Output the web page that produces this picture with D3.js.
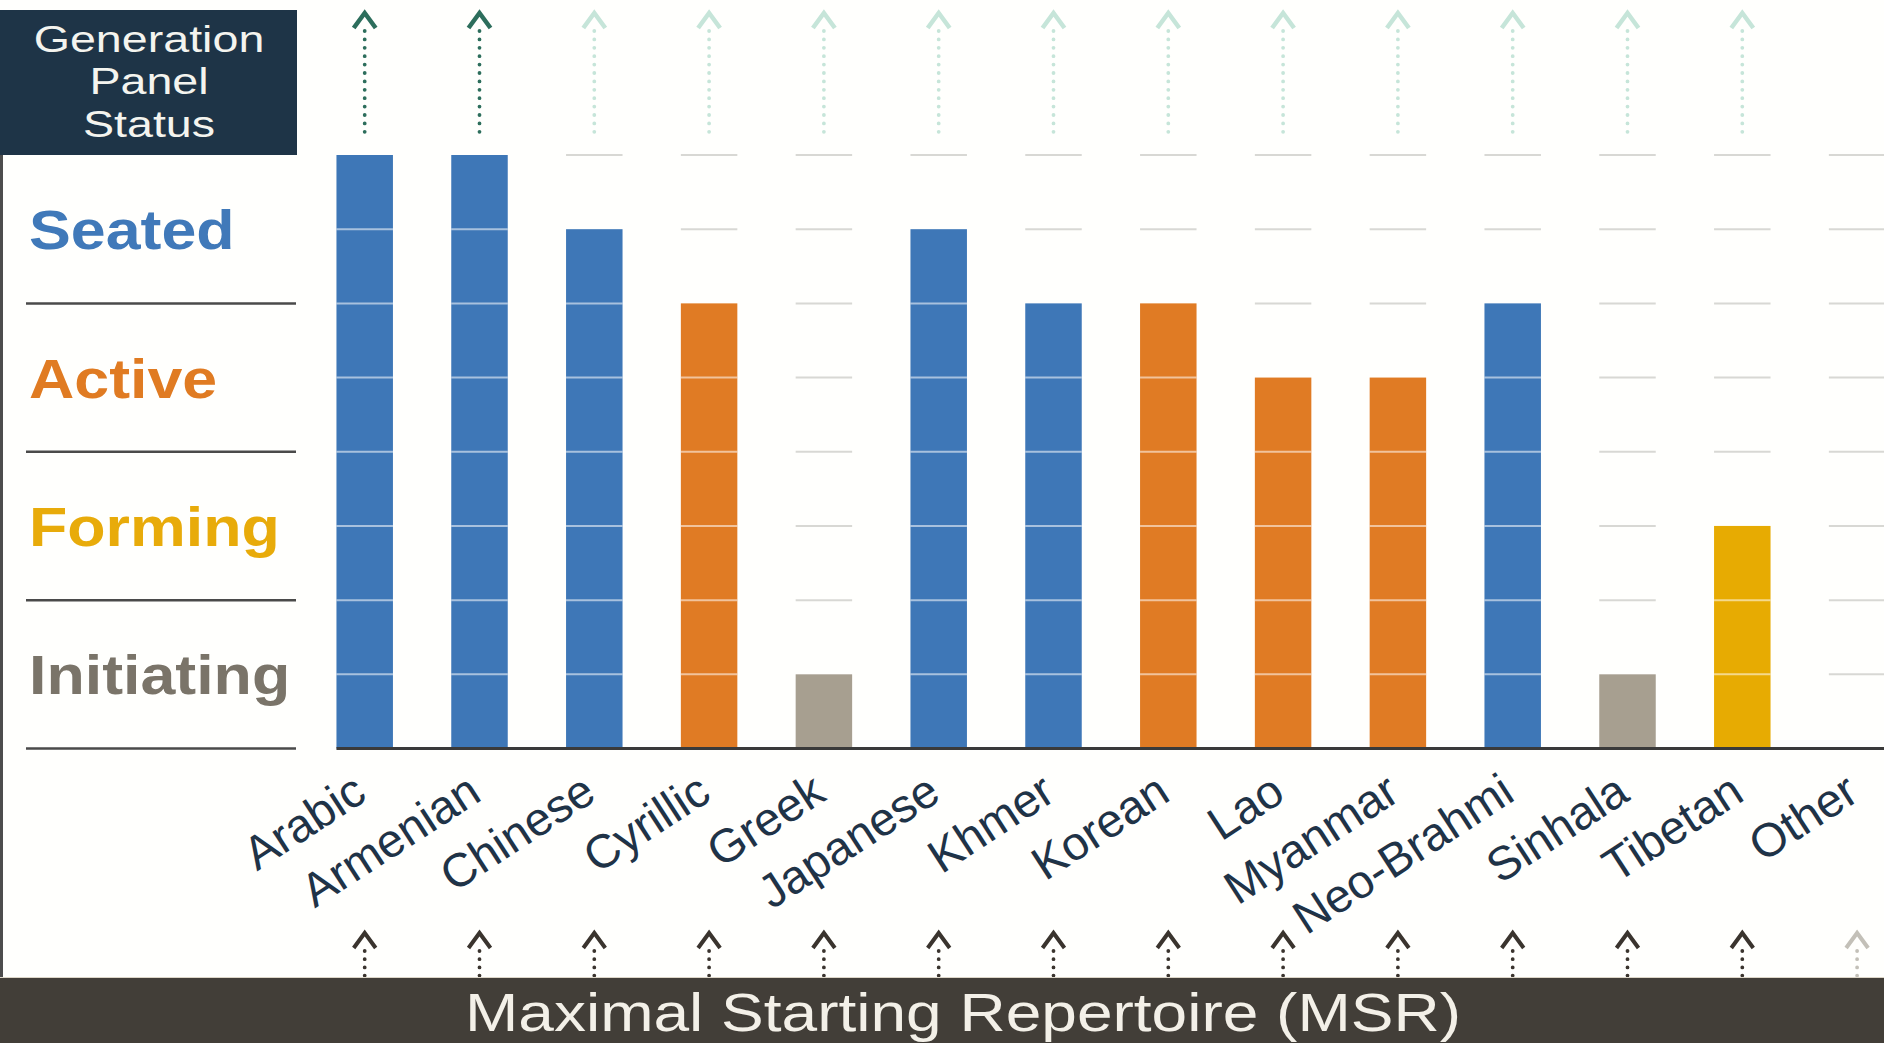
<!DOCTYPE html>
<html>
<head>
<meta charset="utf-8">
<script src="https://cdn.jsdelivr.net/npm/d3@7"></script>
<style>
  html, body { margin: 0; padding: 0; background: #fffffd; }
  svg { display: block; }
  text { font-family: "Liberation Sans", Arial, sans-serif; }
</style>
</head>
<body>
<svg id="chart" width="1884" height="1043"></svg>
<script>
// Script groups and the generation-panel level reached by each
const categories = ["Arabic", "Armenian", "Chinese", "Cyrillic", "Greek", "Japanese", "Khmer",
  "Korean", "Lao", "Myanmar", "Neo-Brahmi", "Sinhala", "Tibetan", "Other"];
const panelLevels = [8, 8, 7, 6, 1, 7, 6, 6, 5, 5, 6, 1, 3, 0];
const panelStatus = ["Seated", "Seated", "Seated", "Active", "Initiating", "Seated", "Seated",
  "Active", "Active", "Active", "Seated", "Initiating", "Forming", null];
// Arrow into the generation panel (top) and from the MSR (bottom)
const panelArrows = ["strong", "strong", "faint", "faint", "faint", "faint", "faint",
  "faint", "faint", "faint", "faint", "faint", "faint", "none"];
const msrArrows = ["strong", "strong", "strong", "strong", "strong", "strong", "strong",
  "strong", "strong", "strong", "strong", "strong", "strong", "faint"];

// Status bands on the left-hand scale
const statusNames = ["Seated", "Active", "Forming", "Initiating"];
const statusFrom = [6, 4, 2, 0];
const statusTo = [8, 6, 4, 2];
const levelTicks = [1, 2, 3, 4, 5, 6, 7, 8];

const statusColor = { Seated: "#3e77b7", Active: "#e07b24", Forming: "#e7ab02", Initiating: "#a79f90" };
const statusTextColor = { Seated: "#4079b9", Active: "#e07b22", Forming: "#e8ab0a", Initiating: "#7a7469" };

const svg = d3.select("#chart");
const W = 1884, H = 1043;

const x = d3.scaleBand().domain(categories).range([307.3, 1914.5]).paddingInner(0.508).paddingOuter(0.254);
const y = d3.scaleLinear().domain([0, 8]).range([748.5, 155]);
const bw = x.bandwidth();
const cx = c => x(c) + bw / 2;

// Left frame line
svg.append("line").attr("x1", 1.5).attr("x2", 1.5).attr("y1", y(8)).attr("y2", 978)
  .attr("stroke", "#4d4d4d").attr("stroke-width", 3);

// Title box
svg.append("rect").attr("x", 0).attr("y", 10).attr("width", 297).attr("height", 145).attr("fill", "#1e3447");
const title = svg.append("g").attr("transform", "translate(149,0) scale(1.26,1)");
["Generation", "Panel", "Status"].forEach((t, i) => {
  title.append("text").attr("x", 0).attr("y", 52 + i * 42.5).attr("text-anchor", "middle")
    .attr("font-size", 37).attr("fill", "#f4f4ef").text(t);
});

// Status names and band dividers
statusNames.forEach((s, i) => {
  svg.append("text")
    .attr("transform", `translate(29,${(y(statusFrom[i]) + y(statusTo[i])) / 2 + 20}) scale(1.14,1)`)
    .attr("font-size", 55).attr("font-weight", "bold").attr("fill", statusTextColor[s]).text(s);
  svg.append("line").attr("x1", 26).attr("x2", 296)
    .attr("y1", y(statusFrom[i])).attr("y2", y(statusFrom[i]))
    .attr("stroke", "#4a4a4a").attr("stroke-width", 2.5);
});

// Faint level marks above each bar
const grid = svg.append("g");
categories.forEach((c, i) => {
  levelTicks.filter(l => l > panelLevels[i]).forEach(l => {
    grid.append("line").attr("x1", x(c)).attr("x2", x(c) + bw).attr("y1", y(l)).attr("y2", y(l))
      .attr("stroke", "#d8d8d4").attr("stroke-width", 2);
  });
});

// Bars
categories.forEach((c, i) => {
  if (!panelLevels[i]) return;
  svg.append("rect").attr("x", x(c)).attr("y", y(panelLevels[i])).attr("width", bw)
    .attr("height", y(0) - y(panelLevels[i])).attr("fill", statusColor[panelStatus[i]]);
  levelTicks.filter(l => l < panelLevels[i]).forEach(l => {
    svg.append("line").attr("x1", x(c)).attr("x2", x(c) + bw).attr("y1", y(l)).attr("y2", y(l))
      .attr("stroke", "#ffffff").attr("stroke-opacity", 0.55).attr("stroke-width", 2);
  });
});

// Baseline
svg.append("line").attr("x1", x(categories[0])).attr("x2", W).attr("y1", y(0)).attr("y2", y(0))
  .attr("stroke", "#3a3a3a").attr("stroke-width", 3);

// Category labels
const xAxis = svg.append("g").call(d3.axisBottom(x).tickSize(0));
xAxis.select(".domain").remove();
xAxis.selectAll(".tick").attr("transform", d => `translate(${cx(d) + 4},799)`);
xAxis.selectAll(".tick text")
  .attr("x", 0).attr("y", 0).attr("dy", 0)
  .attr("transform", "rotate(-33)")
  .attr("text-anchor", "end")
  .attr("font-family", "Liberation Sans, Arial, sans-serif")
  .attr("font-size", 47).attr("fill", "#1f3347");

// Dotted arrows
function arrow(g, xc, tipY, endY, color, width, dotGap) {
  g.append("path").attr("d", `M${xc - 11},${tipY + 15}L${xc},${tipY}L${xc + 11},${tipY + 15}`)
    .attr("fill", "none").attr("stroke", color).attr("stroke-width", width);
  g.append("line").attr("x1", xc).attr("x2", xc).attr("y1", tipY + 18).attr("y2", endY)
    .attr("stroke", color).attr("stroke-width", 3.8).attr("stroke-linecap", "round")
    .attr("stroke-dasharray", `0 ${dotGap}`);
}
const arrows = svg.append("g");
categories.forEach((c, i) => {
  const a = panelArrows[i];
  if (a !== "none") arrow(arrows, cx(c), 13, 137, a === "strong" ? "#2d6e5c" : "#c6e5d9", 4.5, 8.4);
  const b = msrArrows[i];
  arrow(arrows, cx(c), 933, 978, b === "strong" ? "#3a342e" : "#c3c0b8", 4, 8.2);
});

// MSR bar
svg.append("rect").attr("x", 0).attr("y", 978).attr("width", W).attr("height", H - 978).attr("fill", "#423e38");
svg.append("line").attr("x1", 0).attr("x2", W).attr("y1", 977.5).attr("y2", 977.5).attr("stroke", "#ddd6c8").attr("stroke-width", 1);
svg.append("text").attr("x", 465).attr("y", 1031).attr("font-size", 54)
  .attr("textLength", 996).attr("lengthAdjust", "spacingAndGlyphs")
  .attr("fill", "#f3f0e8").text("Maximal Starting Repertoire (MSR)");
</script>
</body>
</html>
